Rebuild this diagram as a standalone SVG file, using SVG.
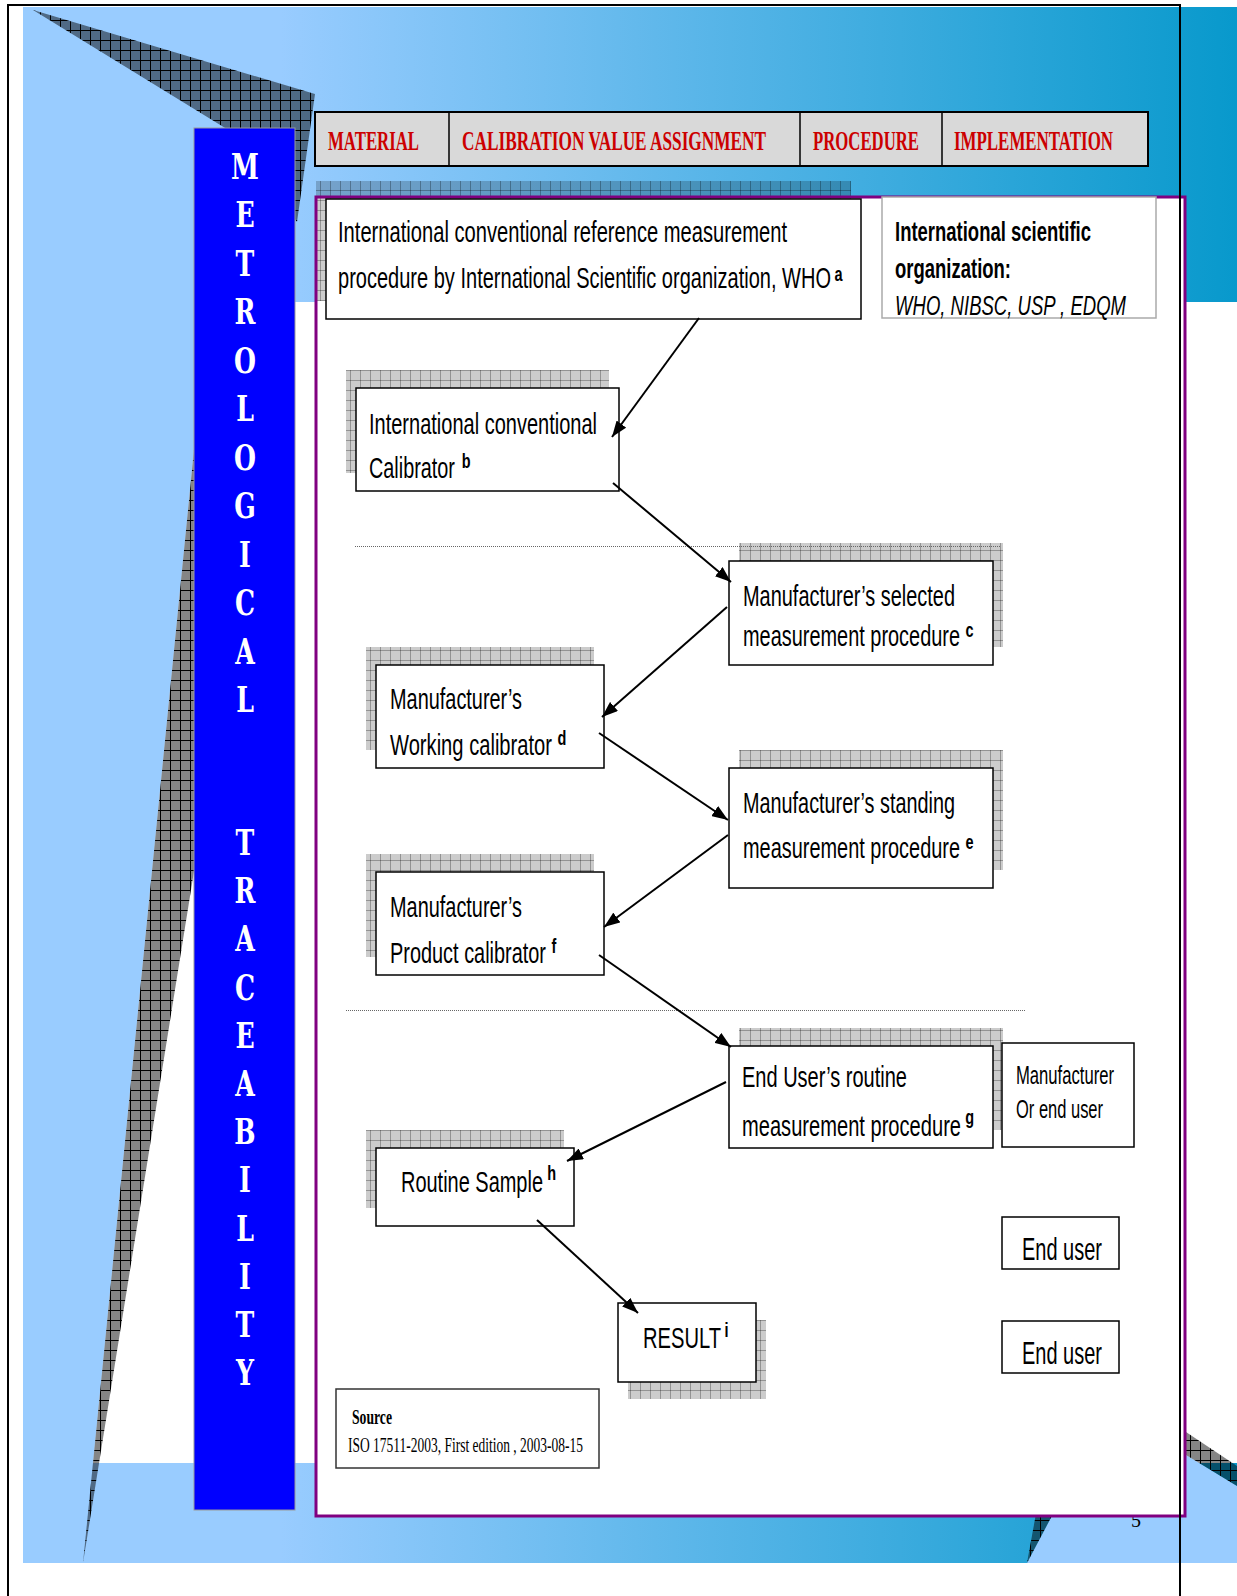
<svg xmlns="http://www.w3.org/2000/svg" width="1237" height="1596" viewBox="0 0 1237 1596">
<defs>
<style>
.t{font-family:"Liberation Sans",Arial,sans-serif;font-size:29px;fill:#000}
.sm{font-size:25px}
.eu{font-size:31px}
.org{font-size:27px}
.b{font-weight:bold}
.it{font-style:italic}
.sup{font-size:21px;font-weight:bold}
.hdr{font-family:"Liberation Serif","Times New Roman",serif;font-weight:bold;font-size:28px;fill:#cc0000}
.src{font-family:"Liberation Serif","Times New Roman",serif;font-size:20px;fill:#000}
.box{fill:#fff;stroke:#000;stroke-width:1.5}
.gbox{fill:#fff;stroke:#aaa;stroke-width:1.5}
.sh{fill:url(#shadow)}
.hat{fill:url(#hatch)}
.conn{stroke:#000;stroke-width:2;fill:none;marker-end:url(#ah)}
.dot{stroke:#666;stroke-width:1;stroke-dasharray:1 1;fill:none}
.vl{font-family:"DejaVu Serif","Liberation Serif",serif;font-weight:bold;font-size:36px;fill:#fff;text-anchor:middle}
</style>
<linearGradient id="bg" gradientUnits="userSpaceOnUse" x1="280" y1="0" x2="1237" y2="0">
<stop offset="0" stop-color="#99ccff"/>
<stop offset="1" stop-color="#0899cc"/>
</linearGradient>
<pattern id="shadow" width="10" height="10" patternUnits="userSpaceOnUse">
<rect width="10" height="10" fill="#000" fill-opacity="0.2"/>
<path d="M0 0.5H10M0.5 0V10" stroke="#000" stroke-opacity="0.28" stroke-width="1"/>
</pattern>
<pattern id="hatch" width="10" height="10" patternUnits="userSpaceOnUse">
<rect width="10" height="10" fill="#000" fill-opacity="0.48"/>
<path d="M0 0.5H10M0.5 0V10" stroke="#000" stroke-width="1"/>
</pattern>
<marker id="ah" markerWidth="16" markerHeight="12" refX="16" refY="6" orient="auto" markerUnits="userSpaceOnUse">
<path d="M0 0L16 6L0 12z" fill="#000"/>
</marker>
</defs>

<g id="background">
<rect x="0" y="0" width="1237" height="1596" fill="#fff"/>
<rect x="23" y="7" width="1214" height="295" fill="url(#bg)"/>
<polygon points="23,302 195,302 195,440 83,1563 23,1563" fill="#99ccff"/>
<rect x="23" y="1463" width="1214" height="100" fill="url(#bg)"/>
<polygon points="1027,1563 1080,1463 1186,1455 1237,1486 1237,1563" fill="#99ccff"/>
<polygon class="hat" points="33,10 315,94 297,222 230,131"/>
<polygon class="hat" points="195,440 195,865 83,1563"/>
<polygon class="hat" points="1037,1508 1056,1508 1027,1563"/>
<polygon class="hat" points="1186,1432 1237,1466 1237,1486 1186,1455"/>
<text x="1131" y="1527" class="src">5</text>
</g>

<g id="side-bar">
<rect x="194" y="128" width="101" height="1382" fill="#0000ff" stroke="#999" stroke-width="1"/>
<g transform="translate(245 0) scale(0.7 1)">
<text class="vl" x="0" y="179">M</text>
<text class="vl" x="0" y="227.5">E</text>
<text class="vl" x="0" y="276">T</text>
<text class="vl" x="0" y="324.5">R</text>
<text class="vl" x="0" y="373">O</text>
<text class="vl" x="0" y="421.5">L</text>
<text class="vl" x="0" y="470">O</text>
<text class="vl" x="0" y="518.5">G</text>
<text class="vl" x="0" y="567">I</text>
<text class="vl" x="0" y="615.5">C</text>
<text class="vl" x="0" y="664">A</text>
<text class="vl" x="0" y="712.5">L</text>
<text class="vl" x="0" y="855">T</text>
<text class="vl" x="0" y="903.2">R</text>
<text class="vl" x="0" y="951.4">A</text>
<text class="vl" x="0" y="999.6">C</text>
<text class="vl" x="0" y="1047.8">E</text>
<text class="vl" x="0" y="1096">A</text>
<text class="vl" x="0" y="1144.2">B</text>
<text class="vl" x="0" y="1192.4">I</text>
<text class="vl" x="0" y="1240.6">L</text>
<text class="vl" x="0" y="1288.8">I</text>
<text class="vl" x="0" y="1337">T</text>
<text class="vl" x="0" y="1385.2">Y</text>
</g>
</g>

<g id="header">
<rect x="315" y="112" width="833" height="54" fill="#d9d9d9" stroke="#000" stroke-width="2"/>
<path d="M449 112V166M800 112V166M942 112V166" stroke="#000" stroke-width="1.5"/>
<text class="hdr" transform="translate(328 150) scale(0.6 1)" textLength="151.7" lengthAdjust="spacingAndGlyphs">MATERIAL</text>
<text class="hdr" transform="translate(462 150) scale(0.6 1)" textLength="506.7" lengthAdjust="spacingAndGlyphs">CALIBRATION VALUE ASSIGNMENT</text>
<text class="hdr" transform="translate(813 150) scale(0.6 1)" textLength="176.7" lengthAdjust="spacingAndGlyphs">PROCEDURE</text>
<text class="hdr" transform="translate(954 150) scale(0.6 1)" textLength="265" lengthAdjust="spacingAndGlyphs">IMPLEMENTATION</text>
</g>

<g id="frame-fill">
<rect x="316" y="197" width="869" height="1319" fill="#fff"/>
</g>

<g id="shadows">
<rect class="sh" x="316" y="181" width="535" height="120"/>
<rect class="sh" x="346" y="370" width="263" height="103"/>
<rect class="sh" x="739" y="543" width="264" height="104"/>
<rect class="sh" x="366" y="647" width="228" height="103"/>
<rect class="sh" x="739" y="750" width="264" height="120"/>
<rect class="sh" x="366" y="854" width="228" height="103"/>
<rect class="sh" x="739" y="1028" width="264" height="102"/>
<rect class="sh" x="366" y="1130" width="198" height="78"/>
<rect class="sh" x="628" y="1320" width="138" height="79"/>
</g>

<g id="frame">
<rect x="316" y="197" width="869" height="1319" fill="none" stroke="#800080" stroke-width="3"/>
<path class="dot" d="M355 546.5H1000"/>
<path class="dot" d="M346 1010.5H1026"/>
</g>

<g id="node-a">
<rect class="box" x="326" y="199" width="535" height="120"/>
<text class="t" transform="translate(338 242) scale(0.69 1)" textLength="650.7" lengthAdjust="spacingAndGlyphs">International conventional reference measurement</text>
<text class="t" transform="translate(338 288) scale(0.69 1)"><tspan textLength="714.5" lengthAdjust="spacingAndGlyphs">procedure by International Scientific organization, WHO</tspan><tspan class="sup" dx="5" dy="-7">a</tspan></text>
</g>

<g id="node-org">
<rect class="gbox" x="882" y="197" width="274" height="121"/>
<text class="t b org" transform="translate(895 241) scale(0.69 1)" textLength="284.1" lengthAdjust="spacingAndGlyphs">International scientific</text>
<text class="t b org" transform="translate(895 278) scale(0.69 1)" textLength="168.1" lengthAdjust="spacingAndGlyphs">organization:</text>
<text class="t it org" transform="translate(895 315) scale(0.69 1)" textLength="334.8" lengthAdjust="spacingAndGlyphs">WHO, NIBSC, USP , EDQM</text>
</g>

<g id="node-b">
<rect class="box" x="356" y="388" width="263" height="103"/>
<text class="t" transform="translate(369 434) scale(0.69 1)" textLength="330.4" lengthAdjust="spacingAndGlyphs">International conventional</text>
<text class="t" transform="translate(369 478) scale(0.69 1)"><tspan textLength="124.6" lengthAdjust="spacingAndGlyphs">Calibrator</tspan><tspan class="sup" dx="10" dy="-10">b</tspan></text>
</g>

<g id="node-c">
<rect class="box" x="729" y="561" width="264" height="104"/>
<text class="t" transform="translate(743 606) scale(0.69 1)" textLength="307.2" lengthAdjust="spacingAndGlyphs">Manufacturer’s selected</text>
<text class="t" transform="translate(743 646) scale(0.69 1)"><tspan textLength="314.5" lengthAdjust="spacingAndGlyphs">measurement procedure</tspan><tspan class="sup" dx="8" dy="-9">c</tspan></text>
</g>

<g id="node-d">
<rect class="box" x="376" y="665" width="228" height="103"/>
<text class="t" transform="translate(390 709) scale(0.69 1)" textLength="191.3" lengthAdjust="spacingAndGlyphs">Manufacturer’s</text>
<text class="t" transform="translate(390 755) scale(0.69 1)"><tspan textLength="234.8" lengthAdjust="spacingAndGlyphs">Working calibrator</tspan><tspan class="sup" dx="8" dy="-10">d</tspan></text>
</g>

<g id="node-e">
<rect class="box" x="729" y="768" width="264" height="120"/>
<text class="t" transform="translate(743 813) scale(0.69 1)" textLength="307.2" lengthAdjust="spacingAndGlyphs">Manufacturer’s standing</text>
<text class="t" transform="translate(743 858) scale(0.69 1)"><tspan textLength="314.5" lengthAdjust="spacingAndGlyphs">measurement procedure</tspan><tspan class="sup" dx="8" dy="-9">e</tspan></text>
</g>

<g id="node-f">
<rect class="box" x="376" y="872" width="228" height="103"/>
<text class="t" transform="translate(390 917) scale(0.69 1)" textLength="191.3" lengthAdjust="spacingAndGlyphs">Manufacturer’s</text>
<text class="t" transform="translate(390 963) scale(0.69 1)"><tspan textLength="226.1" lengthAdjust="spacingAndGlyphs">Product calibrator</tspan><tspan class="sup" dx="8" dy="-10">f</tspan></text>
</g>

<g id="node-g">
<rect class="box" x="729" y="1046" width="264" height="102"/>
<text class="t" transform="translate(742 1087) scale(0.69 1)" textLength="239.1" lengthAdjust="spacingAndGlyphs">End User’s routine</text>
<text class="t" transform="translate(742 1136) scale(0.69 1)"><tspan textLength="317.4" lengthAdjust="spacingAndGlyphs">measurement procedure</tspan><tspan class="sup" dx="6" dy="-12">g</tspan></text>
</g>

<g id="node-mfr-or-user">
<rect class="box" x="1002" y="1043" width="132" height="104"/>
<text class="t sm" transform="translate(1016 1084) scale(0.67 1)" textLength="146.3" lengthAdjust="spacingAndGlyphs">Manufacturer</text>
<text class="t sm" transform="translate(1016 1118) scale(0.67 1)" textLength="129.9" lengthAdjust="spacingAndGlyphs">Or end user</text>
</g>

<g id="node-end-user-1">
<rect class="box" x="1002" y="1217" width="117" height="52"/>
<text class="t eu" transform="translate(1022 1260) scale(0.65 1)" textLength="123.1" lengthAdjust="spacingAndGlyphs">End user</text>
</g>

<g id="node-end-user-2">
<rect class="box" x="1002" y="1321" width="117" height="52"/>
<text class="t eu" transform="translate(1022 1364) scale(0.65 1)" textLength="123.1" lengthAdjust="spacingAndGlyphs">End user</text>
</g>

<g id="node-h">
<rect class="box" x="376" y="1148" width="198" height="78"/>
<text class="t" transform="translate(401 1192) scale(0.69 1)"><tspan textLength="205.8" lengthAdjust="spacingAndGlyphs">Routine Sample</tspan><tspan class="sup" dx="6" dy="-12">h</tspan></text>
</g>

<g id="node-i">
<rect class="box" x="618" y="1303" width="138" height="79"/>
<text class="t" transform="translate(643 1348) scale(0.69 1)"><tspan textLength="113" lengthAdjust="spacingAndGlyphs">RESULT</tspan><tspan class="sup" dx="5" dy="-11">i</tspan></text>
</g>

<g id="node-source">
<rect x="336" y="1389" width="263" height="79" fill="#fff" stroke="#333" stroke-width="1.5"/>
<text class="src" transform="translate(352 1424) scale(0.67 1)" font-weight="bold" textLength="59.7" lengthAdjust="spacingAndGlyphs">Source</text>
<text class="src" transform="translate(348 1452) scale(0.67 1)" textLength="350.7" lengthAdjust="spacingAndGlyphs">ISO 17511-2003, First edition , 2003-08-15</text>
</g>

<g id="connectors">
<path class="conn" d="M699 318L612 437"/>
<path class="conn" d="M613 483L731 582"/>
<path class="conn" d="M727 607L602 717"/>
<path class="conn" d="M599 733L728 820"/>
<path class="conn" d="M728 835L604 927"/>
<path class="conn" d="M599 955L731 1047"/>
<path class="conn" d="M726 1082L567 1161"/>
<path class="conn" d="M537 1220L638 1313"/>
</g>

<g id="page-border">
<path d="M8 1596V5H1180V1596" fill="none" stroke="#000" stroke-width="2"/>
</g>
</svg>
